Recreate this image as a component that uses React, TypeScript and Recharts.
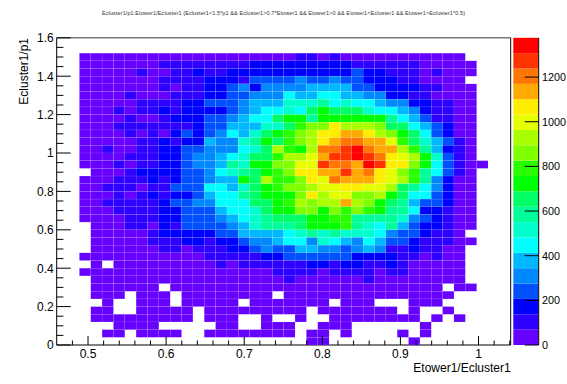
import { ScatterChart, Scatter, XAxis, YAxis, ReferenceLine, BarChart, Bar } from 'recharts'

const FONT = '"Liberation Sans", Arial, sans-serif'

const xMin = 0.4599
const xMax = 1.0412
const yMin = 0
const yMax = 1.6
const xBins = 40
const yBins = 40
const firstFilledBin = 2
const zStep = 68.8

// the axes take 1px each, so the margins are one short of the frame position
const plot = { left: 55.7, top: 37.8, right: 56.3, bottom: 38 }
const plotWidth = 567 - plot.left - 1 - plot.right
const plotHeight = 384 - plot.top - plot.bottom - 1

const xMajorTicks = [0.5, 0.6, 0.7, 0.8, 0.9, 1]
const xAllTicks = [0.48, 0.5, 0.52, 0.54, 0.56, 0.58, 0.6, 0.62, 0.64, 0.66, 0.68, 0.7, 0.72, 0.74, 0.76, 0.78, 0.8, 0.82, 0.84, 0.86, 0.88, 0.9, 0.92, 0.94, 0.96, 0.98, 1, 1.02, 1.04]
const yMajorTicks = [0, 0.2, 0.4, 0.6, 0.8, 1, 1.2, 1.4, 1.6]
const yAllTicks = [0, 0.05, 0.1, 0.15, 0.2, 0.25, 0.3, 0.35, 0.4, 0.45, 0.5, 0.55, 0.6, 0.65, 0.7, 0.75, 0.8, 0.85, 0.9, 0.95, 1, 1.05, 1.1, 1.15, 1.2, 1.25, 1.3, 1.35, 1.4, 1.45, 1.5, 1.55, 1.6]
const zTicks = [0, 200, 400, 600, 800, 1000, 1200]

// colour level of each bin: '.' empty, 0-9 then a-j
// first line is the top row (y 1.48-1.52), last line the bottom one
const levelRows = [
  '0000000000000000000110100000000000..',
  '00000001111111122222222211111100000.',
  '00000100112112222222222232211101000.',
  '0000000111122213333433433222110000..',
  '00000001011223424444555533222211000.',
  '00001000111223344465566554422110000.',
  '00000111122333455577786766544221100.',
  '000101121222234566769a9997665421100.',
  '000010012223345669aa8aaaaaa86531100.',
  '0001111111233555779bccfdddc99653200.',
  '00001010232346579abcdffggfdca963200.',
  '0000011212254478a9bcdfghhggeb975310.',
  '00100112233444679dbadhhijhggdb85210.',
  '00001112234456799bddegiijihfeda7310.',
  '000101122344587aacceeihhgjiffca63100',
  '.000122223346789abcffggighfecb86310.',
  '00011121233455a9dbbcfehgggfedb84200.',
  '0011101133366579abccdeeffeed9864200.',
  '0001012122356689aaacfdeeccda9663200.',
  '00111112334466699abdcddgdca98533200.',
  '00011112233356679aaccacbcba88622100.',
  '00001112233345678999aabb88887432100.',
  '.0001102133334578889aaab87685322100.',
  '.000001222223355556787877764332110..',
  '.0000011122122344566476546533211100.',
  '.000000110111223433554434541121100..',
  '0000000000011111223333332222110100..',
  '.0.0000000001011111122122112100000..',
  '0000000000000000011110111101100000..',
  '.000000000000000001000000100000000..',
  '.000000.000000000000000000000000.00.',
  '.000.000.00000000.000000000000000...',
  '..0..000.00000.0000000.000...000....',
  '.00..00000.000000000.0000000.0..0...',
  '.000000000.000..0..0..00000000.0.0..',
  '...0000.....00..000..000......0.....',
  '..00.0000..00000000.00.0....0.0.....',
  '....................00.......0......',
]

const palette = [
  '#6600ff', '#2e00ff', '#0000ff', '#0050ff', '#0088ff', '#00b8ff', '#00ffff', '#00ffcc', '#00ff99', '#00ff66',
  '#00ff00', '#2aff00', '#7fff00', '#aaff00', '#e5ff00', '#ffee00', '#ffaa00', '#ff7700', '#ff3300', '#ff0000',
]

const binWidth = (xMax - xMin) / xBins
const binHeight = (yMax - yMin) / yBins
const cellWidth = plotWidth / xBins
const cellHeight = plotHeight / yBins

const cells = levelRows.flatMap((row, r) =>
  row.split('').flatMap((ch, k) => {
    if (ch === '.') return []
    const level = parseInt(ch, 20)
    return [{
      x: xMin + (k + firstFilledBin + 0.5) * binWidth,
      y: (levelRows.length - 1 - r + 0.5) * binHeight,
      count: (level + 0.5) * zStep,
    }]
  })
)

const barRow: Record<string, number | string> = { name: 'z' }
palette.forEach((_, i) => { barRow['l' + i] = zStep })

function HistCell(props: any) {
  const { cx, cy, payload } = props
  const level = Math.floor(payload.count / zStep)
  return (
    <rect
      x={cx - cellWidth / 2}
      y={cy - cellHeight / 2}
      width={cellWidth}
      height={cellHeight}
      fill={palette[level]}
      stroke="rgba(255,255,255,0.2)"
      strokeWidth={0.4}
    />
  )
}

function XTick({ x, y, payload }: any) {
  const major = xMajorTicks.includes(payload.value)
  return (
    <g>
      <line x1={x} x2={x} y1={y} y2={y - (major ? 9 : 4.5)} stroke="#000" />
      {major && <text x={x} y={y + 13} textAnchor="middle" fontSize={12} fontFamily={FONT} fill="#000">{payload.value}</text>}
    </g>
  )
}

function YTick({ x, y, payload }: any) {
  const major = yMajorTicks.includes(payload.value)
  return (
    <g>
      <line x1={x} x2={x + (major ? 14 : 6.7)} y1={y} y2={y} stroke="#000" />
      {major && <text x={x - 3} y={y + 4.3} textAnchor="end" fontSize={12} fontFamily={FONT} fill="#000">{payload.value}</text>}
    </g>
  )
}

function ZTick({ x, y, payload }: any) {
  return (
    <g>
      <line x1={x} x2={x - 14} y1={y} y2={y} stroke="#000" />
      <text x={x + 3.3} y={y + 4} textAnchor="start" fontSize={10.8} fontFamily={FONT} fill="#000">{payload.value}</text>
    </g>
  )
}

const layer = { position: 'absolute', left: 0, top: 0 } as const

export default function App() {
  return (
    <div style={{ ...layer, width: 567, height: 384, background: '#fff' }}>
      <div style={layer}>
        <ScatterChart width={567} height={384} margin={plot}>
          <XAxis
            type="number"
            dataKey="x"
            domain={[xMin, xMax]}
            allowDataOverflow
            ticks={xAllTicks}
            interval={0}
            height={1}
            tickSize={0}
            tickMargin={0}
            tickLine={false}
            tick={XTick}
            axisLine={{ stroke: '#000' }}
          />
          <YAxis
            type="number"
            dataKey="y"
            domain={[yMin, yMax]}
            allowDataOverflow
            ticks={yAllTicks}
            interval={0}
            width={1}
            tickSize={0}
            tickMargin={0}
            tickLine={false}
            tick={YTick}
            axisLine={{ stroke: '#000' }}
          />
          <Scatter data={cells} shape={HistCell} isAnimationActive={false} />
          <ReferenceLine y={yMax} stroke="#777" strokeWidth={1.5} />
          <ReferenceLine x={xMax} stroke="#000" />
          <text x={102} y={15} fontSize={5.5} fontFamily={FONT} fill="#333" textLength={363} lengthAdjust="spacing">
            {'Ecluster1/p1:Etower1/Ecluster1 {Ecluster1<1.5*p1 && Ecluster1>0.7*Etower1 && Etower1>0 && Etower1<Ecluster1 && Etower1>Ecluster1*0.5}'}
          </text>
          <text x={510.7} y={372} textAnchor="end" fontSize={12} fontFamily={FONT} fill="#000">Etower1/Ecluster1</text>
          <text x={0} y={0} transform="translate(28 38) rotate(-90)" textAnchor="end" fontSize={12} fontFamily={FONT} fill="#000">Ecluster1/p1</text>
        </ScatterChart>
      </div>
      <div style={layer}>
        <BarChart
          width={567}
          height={384}
          data={[barRow]}
          margin={{ left: 513.3, right: 27.3, top: 37.8, bottom: 39 }}
          barCategoryGap={0}
        >
          <XAxis dataKey="name" hide />
          <YAxis
            orientation="right"
            type="number"
            domain={[0, zStep * palette.length]}
            ticks={zTicks}
            interval={0}
            width={1}
            tickSize={0}
            tickMargin={0}
            tickLine={false}
            tick={ZTick}
            axisLine={{ stroke: '#000' }}
          />
          {palette.map((color, i) => (
            <Bar key={color} dataKey={'l' + i} stackId="z" fill={color} isAnimationActive={false} />
          ))}
        </BarChart>
      </div>
    </div>
  )
}
